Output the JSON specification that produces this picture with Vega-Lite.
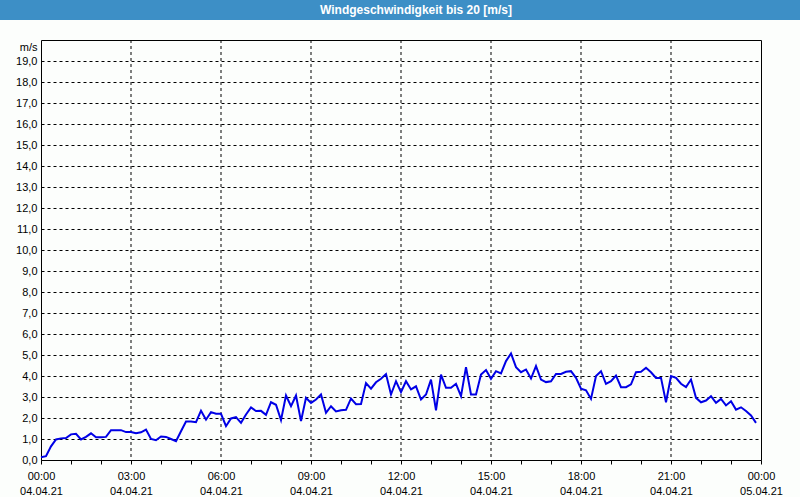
{
  "$schema": "https://vega.github.io/schema/vega-lite/v6.json",
  "background": "#fcfefc",
  "padding": 0,
  "spacing": 19,
  "config": {"view": {"stroke": null}},
  "vconcat": [
    {
      "width": 800,
      "height": 20,
      "view": {"fill": "#3d8fc6", "stroke": null},
      "data": {"values": [{"title": "Windgeschwindigkeit bis 20 [m/s]"}]},
      "mark": {"type": "text", "color": "white", "fontWeight": "bold", "fontSize": 12, "font": "Liberation Sans", "baseline": "middle", "align": "center", "dx": 16},
      "encoding": {"text": {"field": "title", "type": "nominal"}}
    },
    {
      "spacing": 0,
      "hconcat": [
        {
          "width": 1,
          "height": 420,
          "data": {"values": []},
          "mark": {"type": "text"},
          "encoding": {}
        },
        {
          "width": 720,
          "height": 420,
          "view": {"stroke": "black", "strokeWidth": 1},
          "layer": [
            {
              "data": {"values": [
                {"g":"2021-04-04T03:00"},{"g":"2021-04-04T06:00"},{"g":"2021-04-04T09:00"},{"g":"2021-04-04T12:00"},
                {"g":"2021-04-04T15:00"},{"g":"2021-04-04T18:00"},{"g":"2021-04-04T21:00"}
              ]},
              "mark": {"type": "rule", "color": "black", "strokeDash": [3, 3], "strokeWidth": 1},
              "encoding": {"x": {"field": "g", "type": "temporal"}}
            },
            {
              "data": {"values": [
                {"t":"2021-04-04T00:00","v":0.13},{"t":"2021-04-04T00:10","v":0.18},{"t":"2021-04-04T00:20","v":0.65},{"t":"2021-04-04T00:30","v":0.98},{"t":"2021-04-04T00:40","v":1.03},{"t":"2021-04-04T00:50","v":1.05},
                {"t":"2021-04-04T01:00","v":1.22},{"t":"2021-04-04T01:10","v":1.25},{"t":"2021-04-04T01:20","v":0.98},{"t":"2021-04-04T01:30","v":1.1},{"t":"2021-04-04T01:40","v":1.27},{"t":"2021-04-04T01:50","v":1.08},
                {"t":"2021-04-04T02:00","v":1.08},{"t":"2021-04-04T02:10","v":1.1},{"t":"2021-04-04T02:20","v":1.42},{"t":"2021-04-04T02:30","v":1.42},{"t":"2021-04-04T02:40","v":1.42},{"t":"2021-04-04T02:50","v":1.33},
                {"t":"2021-04-04T03:00","v":1.33},{"t":"2021-04-04T03:10","v":1.27},{"t":"2021-04-04T03:20","v":1.32},{"t":"2021-04-04T03:30","v":1.45},{"t":"2021-04-04T03:40","v":1.0},{"t":"2021-04-04T03:50","v":0.94},
                {"t":"2021-04-04T04:00","v":1.12},{"t":"2021-04-04T04:10","v":1.1},{"t":"2021-04-04T04:20","v":1.0},{"t":"2021-04-04T04:30","v":0.9},{"t":"2021-04-04T04:40","v":1.37},{"t":"2021-04-04T04:50","v":1.83},
                {"t":"2021-04-04T05:00","v":1.83},{"t":"2021-04-04T05:10","v":1.8},{"t":"2021-04-04T05:20","v":2.35},{"t":"2021-04-04T05:30","v":1.92},{"t":"2021-04-04T05:40","v":2.28},{"t":"2021-04-04T05:50","v":2.2},
                {"t":"2021-04-04T06:00","v":2.2},{"t":"2021-04-04T06:10","v":1.61},{"t":"2021-04-04T06:20","v":1.98},{"t":"2021-04-04T06:30","v":2.04},{"t":"2021-04-04T06:40","v":1.77},{"t":"2021-04-04T06:50","v":2.17},
                {"t":"2021-04-04T07:00","v":2.5},{"t":"2021-04-04T07:10","v":2.33},{"t":"2021-04-04T07:20","v":2.34},{"t":"2021-04-04T07:30","v":2.15},{"t":"2021-04-04T07:40","v":2.75},{"t":"2021-04-04T07:50","v":2.63},
                {"t":"2021-04-04T08:00","v":1.9},{"t":"2021-04-04T08:10","v":3.07},{"t":"2021-04-04T08:20","v":2.56},{"t":"2021-04-04T08:30","v":3.07},{"t":"2021-04-04T08:40","v":1.85},{"t":"2021-04-04T08:50","v":2.96},
                {"t":"2021-04-04T09:00","v":2.72},{"t":"2021-04-04T09:10","v":2.88},{"t":"2021-04-04T09:20","v":3.12},{"t":"2021-04-04T09:30","v":2.25},{"t":"2021-04-04T09:40","v":2.56},{"t":"2021-04-04T09:50","v":2.31},
                {"t":"2021-04-04T10:00","v":2.37},{"t":"2021-04-04T10:10","v":2.39},{"t":"2021-04-04T10:20","v":2.93},{"t":"2021-04-04T10:30","v":2.66},{"t":"2021-04-04T10:40","v":2.67},{"t":"2021-04-04T10:50","v":3.66},
                {"t":"2021-04-04T11:00","v":3.4},{"t":"2021-04-04T11:10","v":3.7},{"t":"2021-04-04T11:20","v":3.87},{"t":"2021-04-04T11:30","v":4.09},{"t":"2021-04-04T11:40","v":3.12},{"t":"2021-04-04T11:50","v":3.75},
                {"t":"2021-04-04T12:00","v":3.23},{"t":"2021-04-04T12:10","v":3.75},{"t":"2021-04-04T12:20","v":3.36},{"t":"2021-04-04T12:30","v":3.51},{"t":"2021-04-04T12:40","v":2.88},{"t":"2021-04-04T12:50","v":3.12},
                {"t":"2021-04-04T13:00","v":3.83},{"t":"2021-04-04T13:10","v":2.36},{"t":"2021-04-04T13:20","v":4.07},{"t":"2021-04-04T13:30","v":3.44},{"t":"2021-04-04T13:40","v":3.44},{"t":"2021-04-04T13:50","v":3.63},
                {"t":"2021-04-04T14:00","v":3.04},{"t":"2021-04-04T14:10","v":4.42},{"t":"2021-04-04T14:20","v":3.12},{"t":"2021-04-04T14:30","v":3.12},{"t":"2021-04-04T14:40","v":4.07},{"t":"2021-04-04T14:50","v":4.28},
                {"t":"2021-04-04T15:00","v":3.87},{"t":"2021-04-04T15:10","v":4.23},{"t":"2021-04-04T15:20","v":4.12},{"t":"2021-04-04T15:30","v":4.71},{"t":"2021-04-04T15:40","v":5.07},{"t":"2021-04-04T15:50","v":4.42},
                {"t":"2021-04-04T16:00","v":4.18},{"t":"2021-04-04T16:10","v":4.31},{"t":"2021-04-04T16:20","v":3.88},{"t":"2021-04-04T16:30","v":4.47},{"t":"2021-04-04T16:40","v":3.83},{"t":"2021-04-04T16:50","v":3.71},
                {"t":"2021-04-04T17:00","v":3.75},{"t":"2021-04-04T17:10","v":4.1},{"t":"2021-04-04T17:20","v":4.1},{"t":"2021-04-04T17:30","v":4.2},{"t":"2021-04-04T17:40","v":4.23},{"t":"2021-04-04T17:50","v":3.91},
                {"t":"2021-04-04T18:00","v":3.4},{"t":"2021-04-04T18:10","v":3.32},{"t":"2021-04-04T18:20","v":2.91},{"t":"2021-04-04T18:30","v":4.0},{"t":"2021-04-04T18:40","v":4.23},{"t":"2021-04-04T18:50","v":3.63},
                {"t":"2021-04-04T19:00","v":3.75},{"t":"2021-04-04T19:10","v":4.02},{"t":"2021-04-04T19:20","v":3.47},{"t":"2021-04-04T19:30","v":3.47},{"t":"2021-04-04T19:40","v":3.6},{"t":"2021-04-04T19:50","v":4.18},
                {"t":"2021-04-04T20:00","v":4.2},{"t":"2021-04-04T20:10","v":4.39},{"t":"2021-04-04T20:20","v":4.18},{"t":"2021-04-04T20:30","v":3.91},{"t":"2021-04-04T20:40","v":3.91},{"t":"2021-04-04T20:50","v":2.75},
                {"t":"2021-04-04T21:00","v":4.0},{"t":"2021-04-04T21:10","v":3.91},{"t":"2021-04-04T21:20","v":3.63},{"t":"2021-04-04T21:30","v":3.47},{"t":"2021-04-04T21:40","v":3.83},{"t":"2021-04-04T21:50","v":2.96},
                {"t":"2021-04-04T22:00","v":2.75},{"t":"2021-04-04T22:10","v":2.83},{"t":"2021-04-04T22:20","v":3.04},{"t":"2021-04-04T22:30","v":2.72},{"t":"2021-04-04T22:40","v":2.91},{"t":"2021-04-04T22:50","v":2.6},
                {"t":"2021-04-04T23:00","v":2.8},{"t":"2021-04-04T23:10","v":2.4},{"t":"2021-04-04T23:20","v":2.51},{"t":"2021-04-04T23:30","v":2.33},{"t":"2021-04-04T23:40","v":2.12},{"t":"2021-04-04T23:50","v":1.77}
              ]},
              "mark": {"type": "line", "color": "#0000e6", "strokeWidth": 2},
              "encoding": {
                "x": {
                  "field": "t",
                  "type": "temporal",
                  "scale": {"domain": [{"year": 2021, "month": 4, "date": 4, "hours": 0}, {"year": 2021, "month": 4, "date": 5, "hours": 0}], "nice": false},
                  "axis": {
                    "title": null,
                    "domain": false,
                    "tickCount": 24,
                    "tickSize": 4,
                    "tickColor": "black",
                    "labelFlush": false,
                    "labelOverlap": false,
                    "labelPadding": 6,
                    "labelFont": "Liberation Sans",
                    "labelFontSize": 11,
                    "labelColor": "black",
                    "labelLineHeight": 15,
                    "labelExpr": "hours(datum.value) % 3 === 0 ? [timeFormat(datum.value, '%H:%M'), timeFormat(datum.value, '%d.%m.%y')] : ''",
                    "grid": false
                  }
                },
                "y": {
                  "field": "v",
                  "type": "quantitative",
                  "scale": {"domain": [0, 20], "nice": false},
                  "axis": {
                    "title": "m/s",
                    "titleAngle": 0,
                    "titleX": -4,
                    "titleY": 10,
                    "titleAlign": "right",
                    "titleBaseline": "alphabetic",
                    "titleFont": "Liberation Sans",
                    "titleFontWeight": "normal",
                    "titleFontSize": 11,
                    "titleColor": "black",
                    "domain": false,
                    "ticks": false,
                    "values": [0, 1, 2, 3, 4, 5, 6, 7, 8, 9, 10, 11, 12, 13, 14, 15, 16, 17, 18, 19],
                    "labelExpr": "replace(format(datum.value, '.1f'), '.', ',')",
                    "labelPadding": 4,
                    "labelFont": "Liberation Sans",
                    "labelFontSize": 11,
                    "labelColor": "black",
                    "minExtent": 39,
                    "maxExtent": 39,
                    "grid": true,
                    "gridColor": "black",
                    "gridDash": [3, 3]
                  }
                }
              }
            }
          ]
        }
      ]
    }
  ]
}
